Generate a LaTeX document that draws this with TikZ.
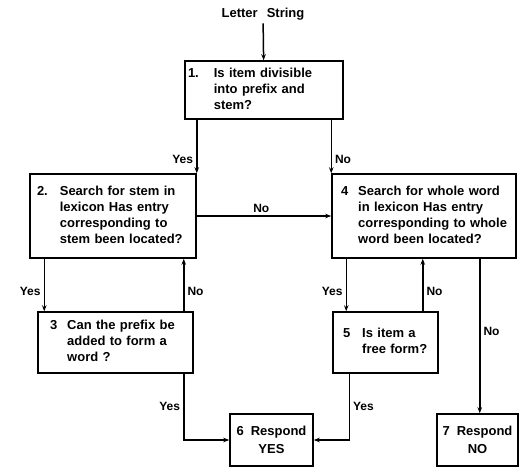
\documentclass[tikz,border=0pt]{standalone}
\usepackage{fontspec}
\setmainfont{Liberation Sans}
\usepackage{tikz}
\usetikzlibrary{arrows.meta}
\tikzset{
  qbox/.style={rectangle, draw=black, line width=1.5pt, align=left,
    font=\bfseries\fontsize{13}{16}\selectfont, inner ysep=3pt},
  rbox/.style={rectangle, draw=black, line width=1.5pt, align=center,
    font=\bfseries\fontsize{13}{18}\selectfont, inner sep=3pt},
  arrow/.style={-{Stealth[length=6pt,width=4.5pt]}, line width=1.5pt, color=black},
  lbl/.style={font=\bfseries\fontsize{12}{14}\selectfont, inner sep=3pt}
}

\begin{document}
\begin{tikzpicture}[x=1pt, y=-1pt]
  \useasboundingbox (0,0) rectangle (519,467);

  % Nodes
  \node[lbl, font=\bfseries\fontsize{13}{16}\selectfont] (input) at (263,14) {Letter\hspace{9pt}String};
  \node[qbox, inner xsep=3pt, text width=152pt, minimum height=58pt] (b1) at (264,90)
    {\begin{tabular}{@{}l@{\hspace{15pt}}l@{}}1. & Is item divisible\\ & into prefix and\\ & stem?\end{tabular}};
  \node[qbox, inner xsep=7pt, text width=152pt, minimum height=84pt] (b2) at (113,216)
    {\begin{tabular}{@{}l@{\hspace{12pt}}l@{}}2. & Search for stem in\\ & lexicon Has entry\\ & corresponding to\\ & stem been located?\end{tabular}};
  \node[qbox, inner xsep=9pt, text width=166pt, minimum height=84pt] (b4) at (424,216)
    {\begin{tabular}{@{}l@{\hspace{10pt}}l@{}}4 & Search for whole word\\ & in lexicon Has entry\\ & corresponding to whole\\ & word been located?\end{tabular}};
  \node[qbox, inner xsep=12pt, text width=131pt, minimum height=61pt] (b3) at (115.5,342.5)
    {\begin{tabular}{@{}l@{\hspace{10pt}}l@{}}3 & Can the prefix be\\ & added to form a\\ & word ?\end{tabular}};
  \node[qbox, inner xsep=10pt, text width=85pt, minimum height=61pt] (b5) at (385.5,342.5)
    {\begin{tabular}{@{}l@{\hspace{12pt}}l@{}}5 & Is item a\\ & free form?\end{tabular}};
  \node[rbox, minimum width=83pt, minimum height=52pt] (b6) at (271.5,440) {6\hspace{7pt}Respond\\YES};
  \node[rbox, minimum width=81pt, minimum height=52pt] (b7) at (477.5,440) {7\hspace{7pt}Respond\\NO};

  % Arrows
  \draw[arrow] (input) -- (b1);
  \draw[arrow] (b1.south west -| b2.north east) -- (b2.north east)
    node[lbl, pos=0.75, left] {Yes};
  \draw[arrow] (b1.south east -| b4.north west) -- (b4.north west)
    node[lbl, pos=0.75, right] {No};
  \draw[arrow] (b2) -- (b4) node[lbl, pos=0.48, above] {No};
  \draw[arrow] ([xshift=15pt]b2.south west) -- ([xshift=15pt]b2.south west |- b3.north)
    node[lbl, pos=0.63, left] {Yes};
  \draw[arrow] ([xshift=-10pt]b3.north east) -- ([xshift=-10pt]b3.north east |- b2.south)
    node[lbl, pos=0.37, right] {No};
  \draw[arrow] ([xshift=-10pt]b3.south east) |- (b6.west)
    node[lbl, pos=0.25, left] {Yes};
  \draw[arrow] ([xshift=15pt]b4.south west) -- ([xshift=15pt]b4.south west |- b5.north)
    node[lbl, pos=0.63, left] {Yes};
  \draw[arrow] ([xshift=-16pt]b5.north east) -- ([xshift=-16pt]b5.north east |- b4.south)
    node[lbl, pos=0.37, right] {No};
  \draw[arrow] ([xshift=17pt]b5.south west) |- (b6.east)
    node[lbl, pos=0.25, right] {Yes};
  \draw[arrow] ([xshift=-37pt]b4.south east) -- ([xshift=-37pt]b4.south east |- b7.north)
    node[lbl, pos=0.47, right] {No};
\end{tikzpicture}
\end{document}
